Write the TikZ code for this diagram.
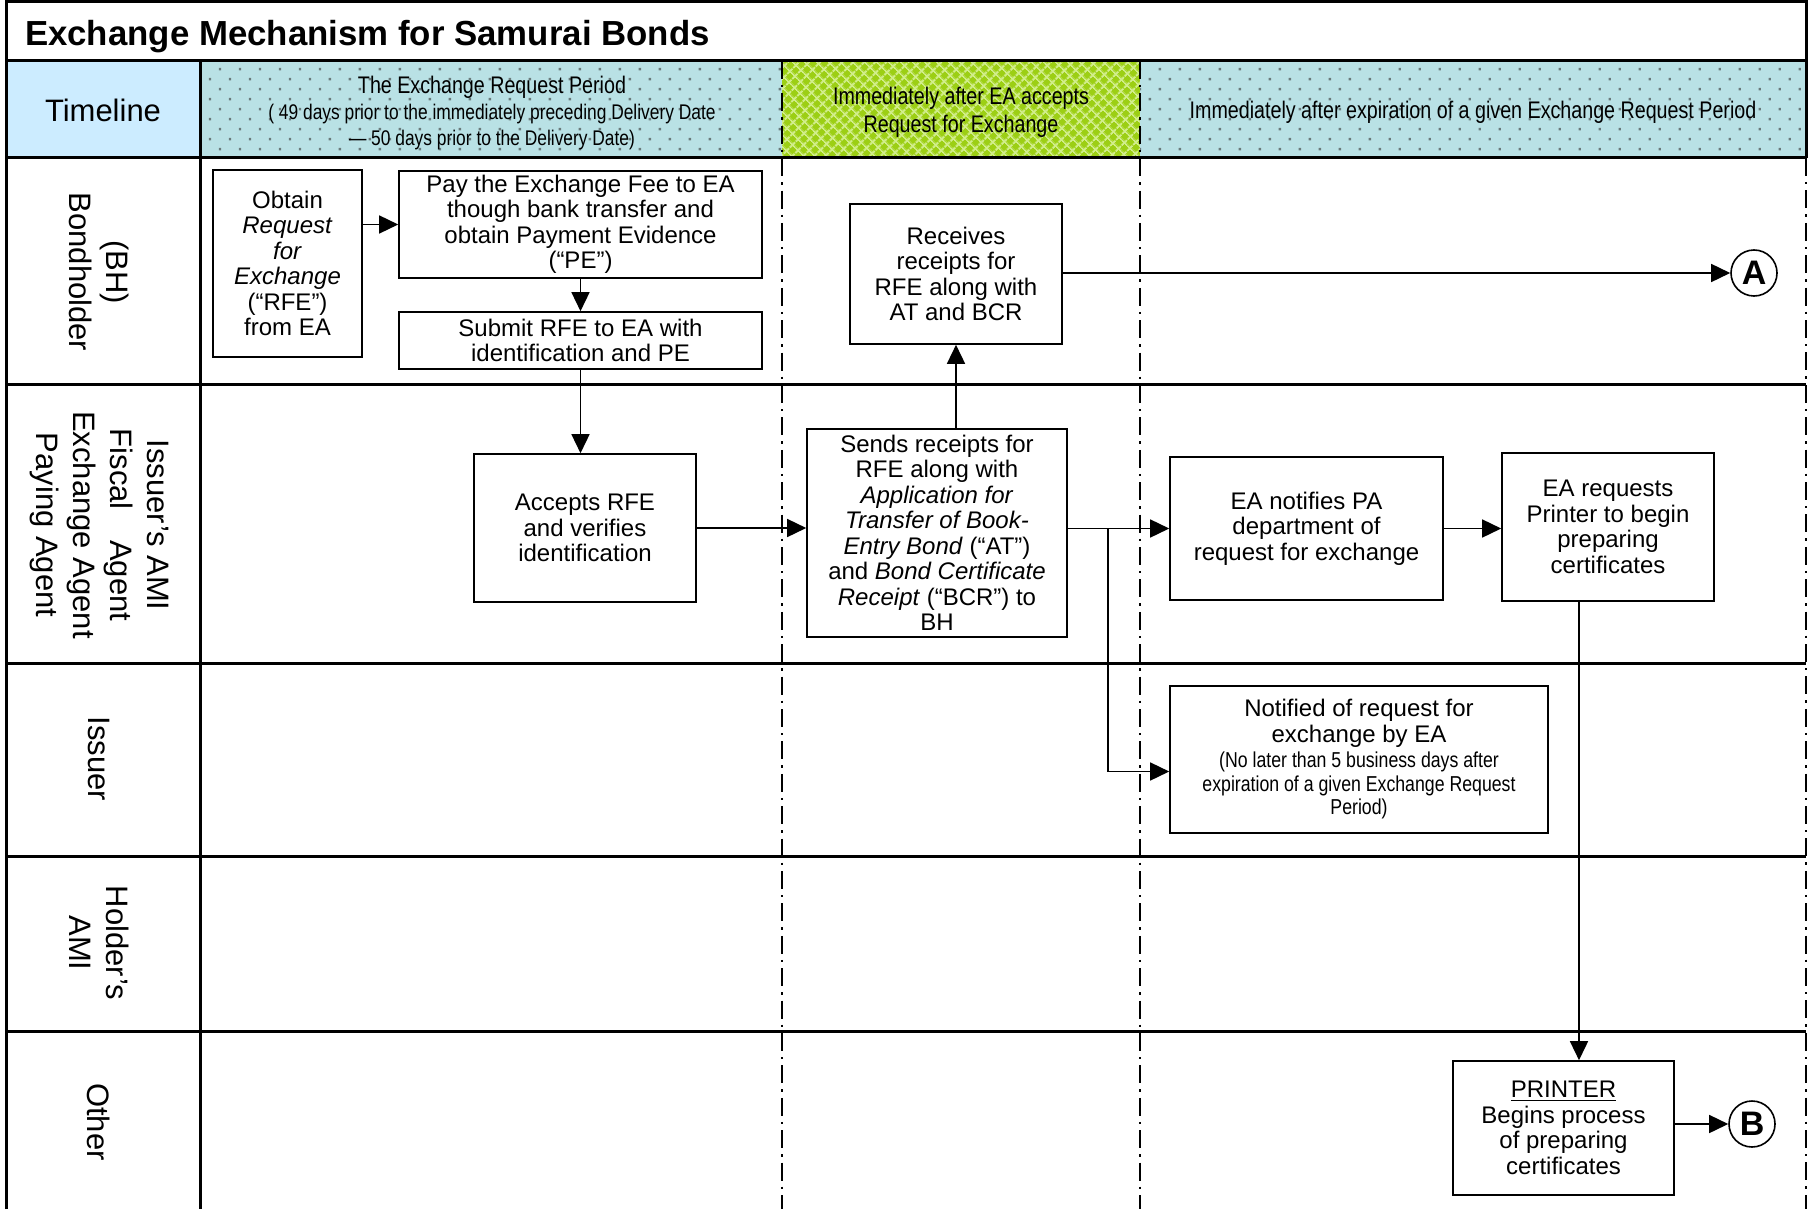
\documentclass[tikz,border=0pt]{standalone}
\usepackage{fontspec}
\setmainfont{Liberation Sans}
\newfontfamily\narrowfont[FakeStretch=0.82]{Liberation Sans}
\usetikzlibrary{arrows.meta,patterns.meta}
\definecolor{tlblue}{HTML}{CCECFF}
\definecolor{cellblue}{HTML}{B9E1E5}
\definecolor{cellgreen}{HTML}{9CCF14}
\definecolor{hatchgreen}{HTML}{D2EE8C}
\definecolor{dotgray}{HTML}{6A7A7C}
\newcommand{\fsz}[2]{\fontsize{#1}{#2}\selectfont}
\tikzset{
  procbox/.style={draw, line width=0.8pt, align=center, inner sep=2pt, font=\fsz{12}{12.75}},
  flow/.style={line width=0.75pt, -{Triangle[length=9.5pt,width=9pt]}},
  lane/.style={line width=1.5pt},
  phase/.style={line width=1pt, dash pattern=on 9pt off 3pt on 1.2pt off 3pt},
  lanelabel/.style={rotate=-90, align=center, font=\fsz{15.5}{18.5}},
  conn/.style={circle, draw, line width=0.8pt, minimum size=23pt, inner sep=0pt, font=\bfseries\fsz{17}{17}},
  dotcell/.style={fill=cellblue, postaction={pattern={Dots[distance=7.07pt,radius=0.85pt,angle=45]}, pattern color=dotgray}},
}
\begin{document}
\begin{tikzpicture}[x=0.5pt,y=-0.5pt]
    \useasboundingbox (0,0) rectangle (1808,1209);
    % timeline row
    \fill[tlblue] (6,61) rectangle (200,158);
    \path[dotcell] (200,61) rectangle (782,158);
    \path[fill=cellgreen, postaction={pattern={Hatch[distance=4pt,angle=45,line width=0.9pt]}, pattern color=hatchgreen}] (782,61) rectangle (1140,158);
    \path[dotcell] (1140,61) rectangle (1806,158);
    % frame, lanes and phases
    \foreach \x in {782,1140}
        \draw[phase] (\x,61) -- (\x,1209);
    \draw[phase] (1806,158) -- (1806,1209);
    \draw[lane] (6,1209) -- (6,2) -- (1806,2) -- (1806,158);
    \foreach \y in {61,158,384,663,856,1031}
        \draw[lane] (6,\y) -- (1806,\y);
    \draw[lane] (200,61) -- (200,1209);

    \node[anchor=west, font=\bfseries\fsz{17.4}{20}] (title) at (18,37) {Exchange Mechanism for Samurai Bonds};
    \node[font=\fsz{15.5}{18}] (timeline) at (103,110) {Timeline};
    \node[align=center, font=\narrowfont\fsz{12}{13}] (erp) at (492,113) {The Exchange Request Period\\\fsz{10.6}{13}( 49 days prior to the immediately preceding Delivery Date\\\fsz{10.6}{13}— 50 days prior to the Delivery Date)};
    \node[align=center, font=\narrowfont\fsz{12}{14}] (afterea) at (961,112) {Immediately after EA accepts\\Request for Exchange};
    \node[font=\narrowfont\fsz{12}{14}] (afterexp) at (1473,112) {Immediately after expiration of a given Exchange Request Period};

    % lanes
    \node[lanelabel] (bh) at (99,272) {(BH)\\Bondholder};
    \node[lanelabel] (agent) at (99,525) {Issuer’s AMI\\Fiscal\hspace{11pt} Agent\\Exchange Agent\\Paying Agent};
    \node[lanelabel] (issuer) at (99,759) {Issuer};
    \node[lanelabel] (holder) at (99,943) {Holder’s\\AMI};
    \node[lanelabel] (other) at (99,1122) {Other};

    % steps
    \node[procbox, minimum width=74.5pt, minimum height=93.5pt] (obtain) at (287.5,263.5) {Obtain\\\textit{Request}\\\textit{for}\\\textit{Exchange}\\(“RFE”)\\from EA};
    \node[procbox, minimum width=181.5pt, minimum height=52.5pt] (pay) at (580.5,224.5) {Pay the Exchange Fee to EA\\though bank transfer and\\obtain Payment Evidence\\(“PE”)};
    \node[procbox, minimum width=181.5pt, minimum height=28.5pt] (submit) at (580.5,340.5) {Submit RFE to EA with\\identification and PE};
    \node[procbox, minimum width=111pt, minimum height=74pt] (accepts) at (585,528) {Accepts RFE\\and verifies\\identification};
    \node[procbox, minimum width=130pt, minimum height=104pt] (sends) at (937,533) {Sends receipts for\\RFE along with\\\textit{Application for}\\\textit{Transfer of Book-}\\\textit{Entry Bond} (“AT”)\\and \textit{Bond Certificate}\\\textit{Receipt} (“BCR”) to\\BH};
    \node[procbox, minimum width=106pt, minimum height=70pt] (receives) at (956,274) {Receives\\receipts for\\RFE along with\\AT and BCR};
    \node[procbox, minimum width=136.5pt, minimum height=71.5pt] (notifies) at (1306.5,528.5) {EA notifies PA\\department of\\request for exchange};
    \node[procbox, minimum width=106pt, minimum height=74pt] (requests) at (1608,527) {EA requests\\Printer to begin\\preparing\\certificates};
    \node[procbox, minimum width=189pt, minimum height=73.5pt] (notified) at (1359,759.5) {Notified of request for\\exchange by EA\\\narrowfont\fsz{10.8}{12}(No later than 5 business days after\\[-1pt]\narrowfont\fsz{10.8}{12}expiration of a given Exchange Request\\[-1pt]\narrowfont\fsz{10.8}{12}Period)};
    \node[procbox, minimum width=110.5pt, minimum height=67pt] (printer) at (1563.5,1128) {\underline{PRINTER}\\Begins process\\of preparing\\certificates};
    \node[conn] (conA) at (1754,273) {A};
    \node[conn] (conB) at (1752,1124) {B};

    % flows
    \draw[flow] (obtain.east |- pay.west) -- (pay.west);
    \draw[flow] (pay) -- (submit);
    \draw[flow] (submit.south) -- (submit.south |- accepts.north);
    \draw[flow] (accepts.east) -- (accepts.east -| sends.west);
    \draw[flow] (receives.south |- sends.north) -- (receives.south);
    \draw[flow] (receives.east |- conA) -- (conA);
    \draw[flow] (sends.east |- notifies.west) -- (notifies.west);
    \path (sends.east |- notifies.west) ++(40,0) coordinate (split);
    \path (split |- notified.west) ++(0,12) coordinate (join);
    \draw[line width=0.75pt] (split) -- (join);
    \draw[flow] (join) -- (join -| notified.west);
    \draw[flow] (notifies.east) -- (notifies.east -| requests.west);
    \path (requests.south) ++(-29,0) coordinate (drop);
    \draw[flow] (drop) -- (drop |- printer.north);
    \draw[flow] (printer.east |- conB) -- (conB);
\end{tikzpicture}
\end{document}
